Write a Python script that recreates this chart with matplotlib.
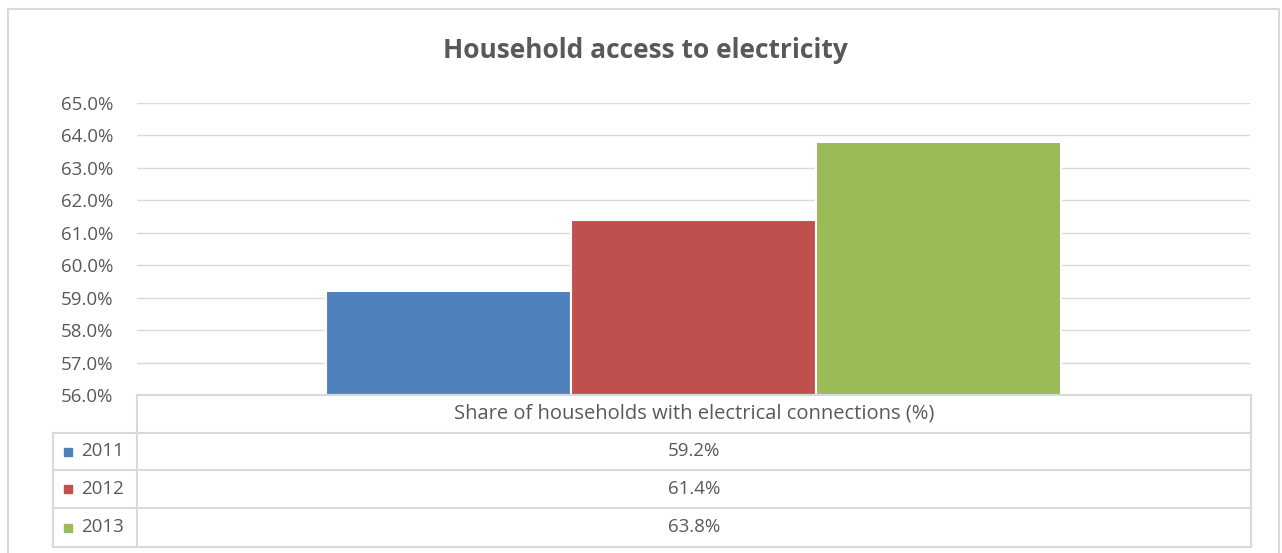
import matplotlib.pyplot as plt
import numpy as np
from matplotlib.lines import Line2D
from matplotlib.patches import Rectangle

years = ['2011', '2012', '2013']
shares = [59.2, 61.4, 63.8]
colors = ['#4F81BD', '#C0504D', '#9BBB59']
category = 'Share of households with electrical connections (%)'
yticks = np.arange(56, 65.5, 1)

W, H = 1282, 553
fig = plt.figure(figsize=(W / 100, H / 100), dpi=100)
plt.rcParams['font.family'] = ['Open Sans', 'DejaVu Sans']
grey = '#595959'
line_c = '#D9D9D9'

def fx(px):
    return px / W

def fy(py):
    return 1 - py / H

# outer chart border
fig.patches.append(Rectangle((fx(8), fy(560)), fx(1279) - fx(8), fy(9) - fy(560),
                             transform=fig.transFigure, fill=False,
                             edgecolor=line_c, linewidth=1.5))

ax = fig.add_axes([fx(137), fy(395), fx(1250) - fx(137), fy(103) - fy(395)])
bw = 0.22
for i, (v, c) in enumerate(zip(shares, colors)):
    ax.bar((i - 1) * bw, v - 56, bottom=56, width=bw, color=c,
           edgecolor='white', linewidth=1.5, zorder=3)
ax.set_xlim(-0.5, 0.5)
ax.set_ylim(56, 65)
ax.set_yticks(yticks)
ax.set_yticklabels(['%.1f%%' % t for t in yticks], color=grey, fontsize=13.5)
ax.tick_params(axis='y', length=0, pad=17)
ax.set_xticks([])
ax.grid(axis='y', color=line_c, linewidth=1, zorder=0)
for s in ax.spines.values():
    s.set_visible(False)

fig.text(fx(645), fy(51), 'Household access to electricity', ha='center', va='center',
         fontsize=19, fontweight='bold', color=grey)

# data table
rows_y = [395, 433, 470, 508, 547]
def hline(x0, x1, y):
    fig.lines.append(Line2D([fx(x0), fx(x1)], [fy(y), fy(y)], transform=fig.transFigure,
                            color=line_c, linewidth=1.5))
def vline(x, y0, y1):
    fig.lines.append(Line2D([fx(x), fx(x)], [fy(y0), fy(y1)], transform=fig.transFigure,
                            color=line_c, linewidth=1.5))

hline(137, 1251, 395)
for y in rows_y[1:]:
    hline(53, 1251, y)
vline(137, 395, 547)
vline(1251, 395, 547)
vline(53, 433, 547)

fig.text(fx(694), fy(414), category, ha='center', va='center', fontsize=14.5, color=grey)
for i, (yr, v, c) in enumerate(zip(years, shares, colors)):
    yc = (rows_y[i + 1] + rows_y[i + 2]) / 2
    fig.patches.append(Rectangle((fx(64), fy(yc + 4)), fx(8), fy(yc - 4) - fy(yc + 4),
                                 transform=fig.transFigure, color=c))
    fig.text(fx(81), fy(yc), yr, ha='left', va='center', fontsize=13.5, color=grey)
    fig.text(fx(694), fy(yc), '%.1f%%' % v, ha='center', va='center', fontsize=13.5, color=grey)

fig.savefig('out.png', dpi=100)
